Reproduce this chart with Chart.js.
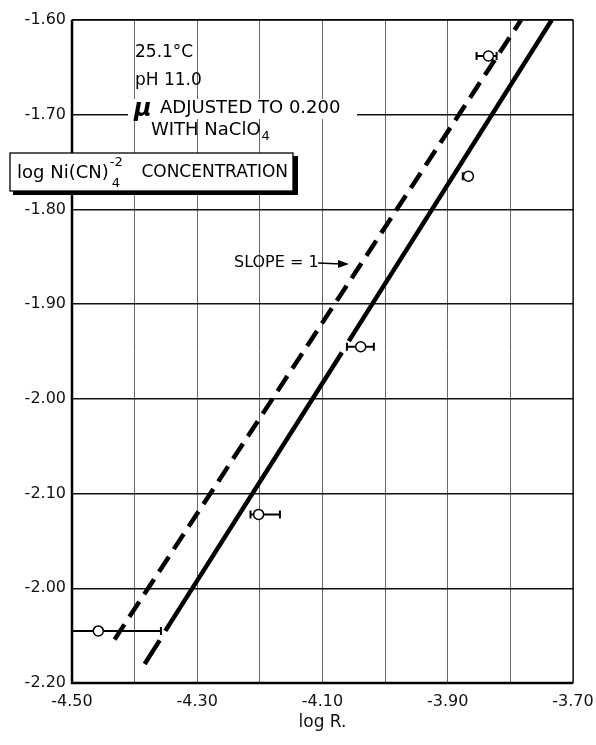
<!DOCTYPE html>
<html>
<head>
<meta charset="utf-8">
<script src="https://cdn.jsdelivr.net/npm/chart.js@4.4.1/dist/chart.umd.min.js"></script>
<style>
  html, body { margin: 0; padding: 0; background: #fff; }
  canvas { display: block; }
</style>
</head>
<body>
<canvas id="chart" width="596" height="745"></canvas>
<script>
// measured points: log R vs log Ni(CN)4 concentration, with horizontal error bars
const logR = [-4.458, -4.202, -4.039, -3.867, -3.835];
const logNi = [-2.245, -2.122, -1.945, -1.765, -1.638];
const errLo = [-4.558, -4.215, -4.061, -3.876, -3.854];
const errHi = [-4.358, -4.168, -4.018, -3.862, -3.822];

// fitted line (solid, broken where it passes the points)
const solidX = [-3.734, -4.058, -4.063, -4.069, -4.351, -4.356, -4.360, -4.384];
const solidY = [-1.600, -1.939, null, -1.951, -2.245, null, -2.255, -2.280];

// slope = 1 reference line (dashed)
const dashX = [-4.432, -3.783];
const dashY = [-2.254, -1.600];

// axes
const xTicks = [-4.5, -4.4, -4.3, -4.2, -4.1, -4.0, -3.9, -3.8, -3.7];
const xTickLabels = ["-4.50", "", "-4.30", "", "-4.10", "", "-3.90", "", "-3.70"];
const yTicks = [-1.6, -1.7, -1.8, -1.9, -2.0, -2.1, -2.2, -2.3];
const yTickLabels = ["-1.60", "-1.70", "-1.80", "-1.90", "-2.00", "-2.10", "-2.00", "-2.20"];

const FONT = "'DejaVu Sans', sans-serif";

function pts(xs, ys) {
  return xs.map((x, i) => ({ x, y: ys[i] }));
}

const errorBars = {
  id: "errorBars",
  beforeDatasetDraw(chart, args) {
    if (args.index !== 0) return;
    const { ctx, chartArea } = chart;
    const xs = chart.scales.x, ys = chart.scales.y;
    ctx.save();
    ctx.beginPath();
    ctx.rect(chartArea.left, chartArea.top, chartArea.right - chartArea.left, chartArea.bottom - chartArea.top);
    ctx.clip();
    ctx.strokeStyle = "#000";
    ctx.lineWidth = 2;
    logR.forEach((_, i) => {
      const y = ys.getPixelForValue(logNi[i]);
      const x0 = xs.getPixelForValue(errLo[i]);
      const x1 = xs.getPixelForValue(errHi[i]);
      ctx.beginPath();
      ctx.moveTo(x0, y); ctx.lineTo(x1, y);
      ctx.moveTo(x0, y - 4); ctx.lineTo(x0, y + 4);
      ctx.moveTo(x1, y - 4); ctx.lineTo(x1, y + 4);
      ctx.stroke();
    });
    ctx.restore();
  }
};

const frame = {
  id: "frame",
  afterDraw(chart) {
    const { ctx, chartArea: a } = chart;
    ctx.save();
    ctx.strokeStyle = "#000";
    ctx.lineWidth = 1.2;
    ctx.strokeRect(a.left, a.top, a.right - a.left, a.bottom - a.top);
    ctx.lineWidth = 2.5;
    ctx.beginPath();
    ctx.moveTo(a.left, a.top); ctx.lineTo(a.left, a.bottom); ctx.lineTo(a.right, a.bottom);
    ctx.stroke();

    ctx.fillStyle = "#000";
    ctx.textBaseline = "middle";
    ctx.textAlign = "left";

    // conditions
    ctx.font = "17px " + FONT;
    ctx.fillText("25.1°C", 135, 53);
    ctx.fillText("pH 11.0", 135, 81);
    ctx.fillStyle = "#fff";
    ctx.fillRect(128, 99, 229, 20);
    ctx.fillStyle = "#000";
    ctx.font = "italic bold 24px " + FONT;
    ctx.fillText("μ", 134, 110);
    ctx.font = "18px " + FONT;
    ctx.fillText("ADJUSTED TO 0.200", 160, 108);
    ctx.fillText("WITH NaClO", 151, 130);
    const w1 = ctx.measureText("WITH NaClO").width;
    ctx.font = "13px " + FONT;
    ctx.fillText("4", 151 + w1 + 1, 137);

    // label box
    ctx.fillStyle = "#000";
    ctx.fillRect(13, 156, 285, 39);
    ctx.fillStyle = "#fff";
    ctx.fillRect(10, 153, 283, 38);
    ctx.lineWidth = 1.3;
    ctx.strokeStyle = "#000";
    ctx.strokeRect(10, 153, 283, 38);
    ctx.fillStyle = "#000";
    ctx.font = "18px " + FONT;
    ctx.fillText("log Ni(CN)", 17, 173);
    const w2 = ctx.measureText("log Ni(CN)").width;
    ctx.font = "13px " + FONT;
    ctx.fillText("-2", 17 + w2 + 1, 163);
    ctx.fillText("4", 17 + w2 + 3, 184);
    ctx.font = "17px " + FONT;
    ctx.textAlign = "right";
    ctx.fillText("CONCENTRATION", 288, 173);

    // slope label with arrow
    ctx.textAlign = "left";
    ctx.font = "16px " + FONT;
    ctx.fillText("SLOPE = 1", 234, 263);
    ctx.lineWidth = 1.5;
    ctx.beginPath();
    ctx.moveTo(318, 263); ctx.lineTo(342, 264);
    ctx.stroke();
    ctx.beginPath();
    ctx.moveTo(349, 264); ctx.lineTo(338, 260); ctx.lineTo(338, 268); ctx.closePath();
    ctx.fill();
    ctx.restore();
  }
};

new Chart(document.getElementById("chart"), {
  type: "scatter",
  data: {
    datasets: [
      {
        label: "measured",
        data: pts(logR, logNi),
        pointStyle: "circle",
        pointRadius: 5,
        pointBackgroundColor: "#fff",
        pointBorderColor: "#000",
        pointBorderWidth: 1.5
      },
      {
        label: "fit",
        type: "line",
        data: pts(solidX, solidY),
        borderColor: "#000",
        borderWidth: 4.5,
        pointRadius: 0,
        spanGaps: false,
        tension: 0
      },
      {
        label: "slope 1",
        type: "line",
        data: pts(dashX, dashY),
        borderColor: "#000",
        borderWidth: 4.5,
        borderDash: [18, 9],
        pointRadius: 0,
        tension: 0
      }
    ]
  },
  options: {
    responsive: false,
    animation: false,
    devicePixelRatio: 1,
    layout: { padding: { top: 20, right: 23, left: 0, bottom: 12 } },
    plugins: { legend: { display: false }, tooltip: { enabled: false } },
    scales: {
      x: {
        type: "linear",
        min: -4.5,
        max: -3.7,
        afterBuildTicks: (s) => { s.ticks = xTicks.map(v => ({ value: v })); },
        afterFit: (s) => { s.height = 50; s.paddingLeft = 0; s.paddingRight = 0; },
        ticks: {
          autoSkip: false,
          maxRotation: 0,
          padding: 9,
          color: "#111",
          font: { family: FONT, size: 16 },
          callback: (v, i) => xTickLabels[i]
        },
        grid: { color: "#666", lineWidth: 1, drawTicks: false },
        border: { display: false },
        title: { display: true, text: "log R.", color: "#111", font: { family: FONT, size: 17 }, padding: { top: 0, bottom: 0 } }
      },
      y: {
        type: "linear",
        min: -2.3,
        max: -1.6,
        afterBuildTicks: (s) => { s.ticks = yTicks.map(v => ({ value: v })); },
        afterFit: (s) => { s.width = 72; s.paddingTop = 0; s.paddingBottom = 0; },
        ticks: {
          autoSkip: false,
          padding: 6,
          color: "#111",
          font: { family: FONT, size: 16 },
          callback: (v, i) => yTickLabels[i]
        },
        grid: { color: "#111", lineWidth: 1.5, drawTicks: false },
        border: { display: false }
      }
    }
  },
  plugins: [errorBars, frame]
});
</script>
</body>
</html>
